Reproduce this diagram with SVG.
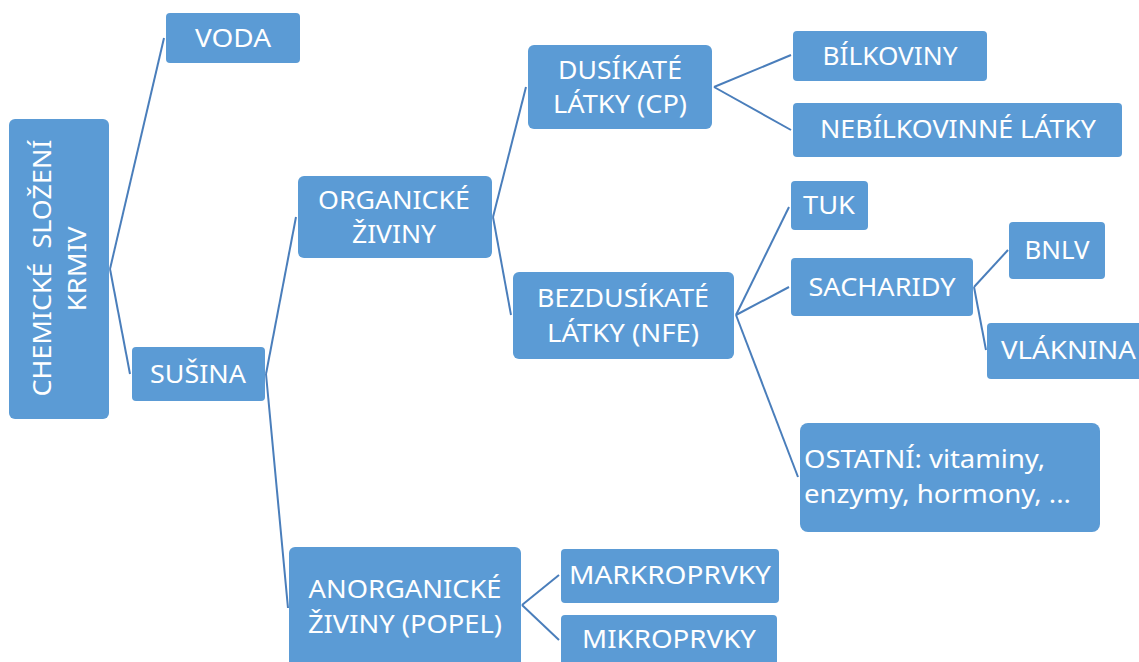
<svg xmlns="http://www.w3.org/2000/svg" width="1139" height="662" viewBox="0 0 1139 662">
<style>
.box{fill:#5B9BD5;}
.t{font-family:"Noto Sans","Open Sans","DejaVu Sans",sans-serif;font-size:26px;fill:#FFFFFF;text-anchor:middle;}
.l{text-anchor:start;}
.c{fill:none;stroke:#4A7EBB;stroke-width:2;}
</style>
<rect width="1139" height="662" fill="#FFFFFF"/>
<g id="connectors">
<line class="c" x1="110" y1="269" x2="164" y2="38"/>
<line class="c" x1="110" y1="269" x2="130" y2="374"/>
<line class="c" x1="266" y1="374" x2="296" y2="217"/>
<line class="c" x1="266" y1="374" x2="288" y2="608"/>
<line class="c" x1="493" y1="217" x2="526" y2="87"/>
<line class="c" x1="493" y1="217" x2="511" y2="315"/>
<line class="c" x1="714" y1="87" x2="791" y2="55"/>
<line class="c" x1="714" y1="87" x2="791" y2="130"/>
<line class="c" x1="736" y1="315" x2="789" y2="207"/>
<line class="c" x1="736" y1="315" x2="789" y2="287"/>
<line class="c" x1="736" y1="315" x2="798" y2="477"/>
<line class="c" x1="974" y1="287" x2="1008" y2="250"/>
<line class="c" x1="974" y1="287" x2="986" y2="350"/>
<line class="c" x1="522" y1="605" x2="559" y2="575"/>
<line class="c" x1="522" y1="605" x2="559" y2="640"/>
</g>
<g id="root">
<rect class="box" x="9" y="119" width="100" height="300" rx="6"/>
<text class="t" transform="translate(51,268) rotate(-90)" textLength="257" lengthAdjust="spacingAndGlyphs" xml:space="preserve">CHEMICKÉ  SLOŽENÍ</text>
<text class="t" transform="translate(86,269) rotate(-90)" textLength="85" lengthAdjust="spacingAndGlyphs">KRMIV</text>
</g>
<g id="voda">
<rect class="box" x="166" y="13" width="134" height="50" rx="4"/>
<text class="t" x="233" y="47" textLength="76" lengthAdjust="spacingAndGlyphs">VODA</text>
</g>
<g id="susina">
<rect class="box" x="132" y="347" width="133" height="54" rx="4"/>
<text class="t" x="198" y="383" textLength="96" lengthAdjust="spacingAndGlyphs">SUŠINA</text>
</g>
<g id="organicke">
<rect class="box" x="298" y="176" width="194" height="82" rx="6"/>
<text class="t" x="394" y="209" textLength="152" lengthAdjust="spacingAndGlyphs">ORGANICKÉ</text>
<text class="t" x="394" y="243" textLength="84" lengthAdjust="spacingAndGlyphs">ŽIVINY</text>
</g>
<g id="anorganicke">
<rect class="box" x="289" y="547" width="232" height="125" rx="6"/>
<text class="t" x="405" y="598" textLength="193" lengthAdjust="spacingAndGlyphs">ANORGANICKÉ</text>
<text class="t" x="405" y="633" textLength="194" lengthAdjust="spacingAndGlyphs">ŽIVINY (POPEL)</text>
</g>
<g id="dusikate">
<rect class="box" x="528" y="45" width="184" height="84" rx="6"/>
<text class="t" x="620" y="79" textLength="124" lengthAdjust="spacingAndGlyphs">DUSÍKATÉ</text>
<text class="t" x="620" y="113" textLength="134" lengthAdjust="spacingAndGlyphs">LÁTKY (CP)</text>
</g>
<g id="bezdusikate">
<rect class="box" x="513" y="272" width="221" height="87" rx="6"/>
<text class="t" x="623" y="307" textLength="172" lengthAdjust="spacingAndGlyphs">BEZDUSÍKATÉ</text>
<text class="t" x="623" y="342" textLength="152" lengthAdjust="spacingAndGlyphs">LÁTKY (NFE)</text>
</g>
<g id="bilkoviny">
<rect class="box" x="793" y="31" width="194" height="50" rx="4"/>
<text class="t" x="890" y="65" textLength="135" lengthAdjust="spacingAndGlyphs">BÍLKOVINY</text>
</g>
<g id="nebilkovinne">
<rect class="box" x="793" y="103" width="329" height="54" rx="4"/>
<text class="t" x="958" y="138" textLength="276" lengthAdjust="spacingAndGlyphs">NEBÍLKOVINNÉ LÁTKY</text>
</g>
<g id="tuk">
<rect class="box" x="791" y="181" width="77" height="49" rx="4"/>
<text class="t" x="829" y="214" textLength="52" lengthAdjust="spacingAndGlyphs">TUK</text>
</g>
<g id="sacharidy">
<rect class="box" x="791" y="258" width="182" height="58" rx="4"/>
<text class="t" x="882" y="296" textLength="147" lengthAdjust="spacingAndGlyphs">SACHARIDY</text>
</g>
<g id="bnlv">
<rect class="box" x="1009" y="222" width="96" height="57" rx="4"/>
<text class="t" x="1057" y="259" textLength="65" lengthAdjust="spacingAndGlyphs">BNLV</text>
</g>
<g id="vlaknina">
<rect class="box" x="987" y="323" width="170" height="56" rx="4"/>
<text class="t l" x="1001" y="359" textLength="135" lengthAdjust="spacingAndGlyphs">VLÁKNINA</text>
</g>
<g id="ostatni">
<rect class="box" x="800" y="423" width="300" height="109" rx="8"/>
<text class="t l" x="804" y="468" textLength="241" lengthAdjust="spacingAndGlyphs">OSTATNÍ: vitaminy,</text>
<text class="t l" x="804" y="503" textLength="267" lengthAdjust="spacingAndGlyphs">enzymy, hormony, ...</text>
</g>
<g id="markroprvky">
<rect class="box" x="561" y="549" width="218" height="54" rx="4"/>
<text class="t" x="670" y="584" textLength="202" lengthAdjust="spacingAndGlyphs">MARKROPRVKY</text>
</g>
<g id="mikroprvky">
<rect class="box" x="561" y="615" width="216" height="60" rx="4"/>
<text class="t" x="669" y="648" textLength="174" lengthAdjust="spacingAndGlyphs">MIKROPRVKY</text>
</g>
</svg>
